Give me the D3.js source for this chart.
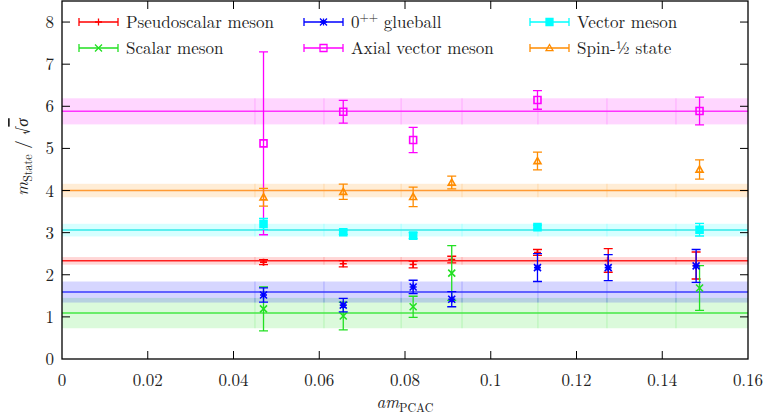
<!DOCTYPE html>
<html>
<head>
<meta charset="utf-8">
<script src="https://cdn.jsdelivr.net/npm/d3@7"></script>
<style>
  html, body { margin: 0; padding: 0; background: #fff; }
  svg text { font-family: "Latin Modern Roman", "CMU Serif", "Liberation Serif", serif; fill: #222; }
</style>
</head>
<body>
<svg id="chart" width="763" height="419"></svg>
<script>
// Axis ticks
const xTicks = [0, 0.02, 0.04, 0.06, 0.08, 0.1, 0.12, 0.14, 0.16];
const yTicks = [0, 1, 2, 3, 4, 5, 6, 7, 8];

// Pseudoscalar meson
const psX = [0.047, 0.0656, 0.0819, 0.0909, 0.1109, 0.1274, 0.1479];
const psY = [2.30, 2.26, 2.245, 2.36, 2.53, 2.34, 2.22];
const psE = [0.06, 0.075, 0.08, 0.08, 0.07, 0.28, 0.32];

// Scalar meson
const scX = [0.047, 0.0656, 0.0819, 0.0909, 0.1487];
const scY = [1.19, 1.02, 1.24, 2.04, 1.685];
const scE = [0.52, 0.33, 0.25, 0.65, 0.53];

// 0++ glueball
const glX = [0.047, 0.0656, 0.0819, 0.0909, 0.1109, 0.1274, 0.1479];
const glY = [1.52, 1.28, 1.71, 1.42, 2.17, 2.17, 2.21];
const glE = [0.17, 0.16, 0.16, 0.18, 0.33, 0.31, 0.39];

// Axial vector meson
const avX = [0.047, 0.0656, 0.0819, 0.1109, 0.1487];
const avY = [5.12, 5.87, 5.20, 6.15, 5.89];
const avE = [2.17, 0.27, 0.30, 0.22, 0.33];

// Vector meson
const vmX = [0.047, 0.0656, 0.0819, 0.1109, 0.1487];
const vmY = [3.21, 3.01, 2.93, 3.13, 3.07];
const vmE = [0.13, 0.05, 0.07, 0.05, 0.15];

// Spin-1/2 state
const shX = [0.047, 0.0656, 0.0819, 0.0909, 0.1109, 0.1487];
const shY = [3.84, 3.97, 3.85, 4.19, 4.70, 4.50];
const shE = [0.21, 0.18, 0.23, 0.15, 0.21, 0.23];

// Constant fits (central value, uncertainty)
const fitCenter = { ps: 2.33, sc: 1.09, gl: 1.59, av: 5.88, vm: 3.06, sh: 4.00 };
const fitError  = { ps: 0.09, sc: 0.36, gl: 0.25, av: 0.31, vm: 0.15, sh: 0.16 };

// Segment joints of the fit bands
const bandSeams = [0.045, 0.0611, 0.0791, 0.0933, 0.1110, 0.1271, 0.1432];

const series = [
  { key: "ps", label: "Pseudoscalar meson", color: "#ff0000", lineColor: "#ff2020", marker: "plus",  x: psX, y: psY, e: psE },
  { key: "sc", label: "Scalar meson",       color: "#22e022", lineColor: "#44e844", marker: "cross", x: scX, y: scY, e: scE },
  { key: "gl", label: "0++ glueball",       color: "#0000ff", lineColor: "#3a3aff", marker: "star",  x: glX, y: glY, e: glE },
  { key: "av", label: "Axial vector meson", color: "#ff00ff", lineColor: "#ff33ff", marker: "square", x: avX, y: avY, e: avE },
  { key: "vm", label: "Vector meson",       color: "#00ffff", lineColor: "#33e8e8", marker: "fsquare", x: vmX, y: vmY, e: vmE },
  { key: "sh", label: "Spin-½ state",       color: "#ff8c00", lineColor: "#ff9a33", marker: "triangle", x: shX, y: shY, e: shE }
];

const svg = d3.select("#chart");
const x = d3.scaleLinear().domain([0, 0.16]).range([62, 748]);
const y = d3.scaleLinear().domain([0, 8.5]).range([359, 1]);

function markerPath(type, s) {
  switch (type) {
    case "plus":  return `M${-s},0H${s}M0,${-s}V${s}`;
    case "cross": return `M${-s},${-s}L${s},${s}M${-s},${s}L${s},${-s}`;
    case "star":  return `M${-s},0H${s}M0,${-s}V${s}M${-s},${-s}L${s},${s}M${-s},${s}L${s},${-s}`;
    case "square":
    case "fsquare": return `M${-s},${-s}H${s}V${s}H${-s}Z`;
    case "triangle": return `M0,${-s}L${s},${s * 0.75}H${-s}Z`;
  }
}

// Fit bands
const bands = svg.append("g");
series.forEach(s => {
  const c = fitCenter[s.key], e = fitError[s.key];
  bands.append("rect")
    .attr("x", x(0)).attr("width", x(0.16) - x(0))
    .attr("y", y(c + e)).attr("height", y(c - e) - y(c + e))
    .attr("fill", s.color).attr("fill-opacity", 0.16);
  bands.selectAll(null).data(bandSeams).enter().append("line")
    .attr("x1", d => x(d)).attr("x2", d => x(d))
    .attr("y1", y(c + e)).attr("y2", y(c - e))
    .attr("stroke", s.color).attr("stroke-opacity", 0.14).attr("stroke-width", 1.5);
});

// Fit central lines
series.forEach(s => {
  svg.append("line")
    .attr("x1", x(0)).attr("x2", x(0.16))
    .attr("y1", y(fitCenter[s.key])).attr("y2", y(fitCenter[s.key]))
    .attr("stroke", s.lineColor).attr("stroke-width", 1.5);
});

// Data points with error bars
const cap = 4.5, ms = 3.5;
series.forEach(s => {
  const g = svg.append("g").attr("stroke", s.color).attr("stroke-width", 1.3).attr("fill", "none");
  const pts = s.x.map((xv, i) => ({ x: xv, y: s.y[i], e: s.e[i] }));
  const eb = g.selectAll("g.eb").data(pts).enter().append("g");
  eb.append("path").attr("d", d => {
    const px = x(d.x), t = y(d.y + d.e), b = y(d.y - d.e);
    return `M${px},${t}V${b}M${px - cap},${t}H${px + cap}M${px - cap},${b}H${px + cap}`;
  });
  eb.append("path")
    .attr("transform", d => `translate(${x(d.x)},${y(d.y)})`)
    .attr("d", markerPath(s.marker, ms))
    .attr("fill", s.marker === "fsquare" ? s.color : "none")
    .attr("stroke-width", 1.6);
});

// Frame and ticks
const frame = svg.append("g").attr("stroke", "#000");
frame.append("rect").attr("x", x(0)).attr("y", y(8.5)).attr("width", x(0.16) - x(0)).attr("height", y(0) - y(8.5))
  .attr("fill", "none").attr("stroke-width", 1.3);
const tl = 8;
xTicks.slice(1, -1).forEach(t => {
  frame.append("line").attr("x1", x(t)).attr("x2", x(t)).attr("y1", y(0)).attr("y2", y(0) - tl).attr("stroke-width", 1);
  frame.append("line").attr("x1", x(t)).attr("x2", x(t)).attr("y1", y(8.5)).attr("y2", y(8.5) + tl).attr("stroke-width", 1);
});
yTicks.slice(1).forEach(t => {
  frame.append("line").attr("x1", x(0)).attr("x2", x(0) + tl).attr("y1", y(t)).attr("y2", y(t)).attr("stroke-width", 1);
  frame.append("line").attr("x1", x(0.16)).attr("x2", x(0.16) - tl).attr("y1", y(t)).attr("y2", y(t)).attr("stroke-width", 1);
});

// Tick labels
const fs = 17;
svg.append("g").selectAll("text").data(xTicks).enter().append("text")
  .attr("x", d => x(d)).attr("y", 386).attr("text-anchor", "middle").attr("font-size", fs)
  .text(d => d3.format("")(d));
svg.append("g").selectAll("text").data(yTicks).enter().append("text")
  .attr("x", 54).attr("y", d => y(d) + 6).attr("text-anchor", "end").attr("font-size", fs)
  .text(d => d);

// Axis titles
const xl = svg.append("text").attr("x", x(0.08)).attr("y", 408).attr("text-anchor", "middle").attr("font-size", fs);
xl.append("tspan").attr("font-style", "italic").text("am");
xl.append("tspan").attr("font-size", 12).attr("dy", 4).text("PCAC");

const yl = svg.append("text").attr("transform", "translate(28,157) rotate(-90)").attr("text-anchor", "middle").attr("font-size", fs);
yl.append("tspan").attr("font-style", "italic").text("m");
yl.append("tspan").attr("font-size", 12).attr("dy", 4).text("State");
yl.append("tspan").attr("dy", -4).text(" / √");
yl.append("tspan").attr("font-style", "italic").attr("text-decoration", "overline").text("σ");

// Legend
const legendPos = [
  { col: 0, row: 0 }, { col: 0, row: 1 }, { col: 1, row: 0 },
  { col: 1, row: 1 }, { col: 2, row: 0 }, { col: 2, row: 1 }
];
const colX = [79, 304, 530], rowY = [22, 48];
const leg = svg.append("g");
series.forEach((s, i) => {
  const p = legendPos[i];
  const x0 = colX[p.col], x1 = x0 + 39, yy = rowY[p.row];
  const g = leg.append("g").attr("stroke", s.color).attr("stroke-width", 1.3).attr("fill", "none");
  g.append("path").attr("d", `M${x0},${yy}H${x1}M${x0},${yy - 4}V${yy + 4}M${x1},${yy - 4}V${yy + 4}`);
  g.append("path").attr("transform", `translate(${(x0 + x1) / 2},${yy})`)
    .attr("d", markerPath(s.marker, ms)).attr("fill", s.marker === "fsquare" ? s.color : "none");
  const tx = x1 + 8, ty = yy + 6;
  if (s.key === "gl") {
    const t = leg.append("text").attr("x", tx).attr("y", ty).attr("font-size", fs);
    t.append("tspan").text("0");
    t.append("tspan").attr("font-size", 12).attr("dy", -7).text("++");
    t.append("tspan").attr("dy", 7).text(" glueball");
  } else {
    leg.append("text").attr("x", tx).attr("y", ty).attr("font-size", fs).text(s.label);
  }
});
</script>
</body>
</html>
